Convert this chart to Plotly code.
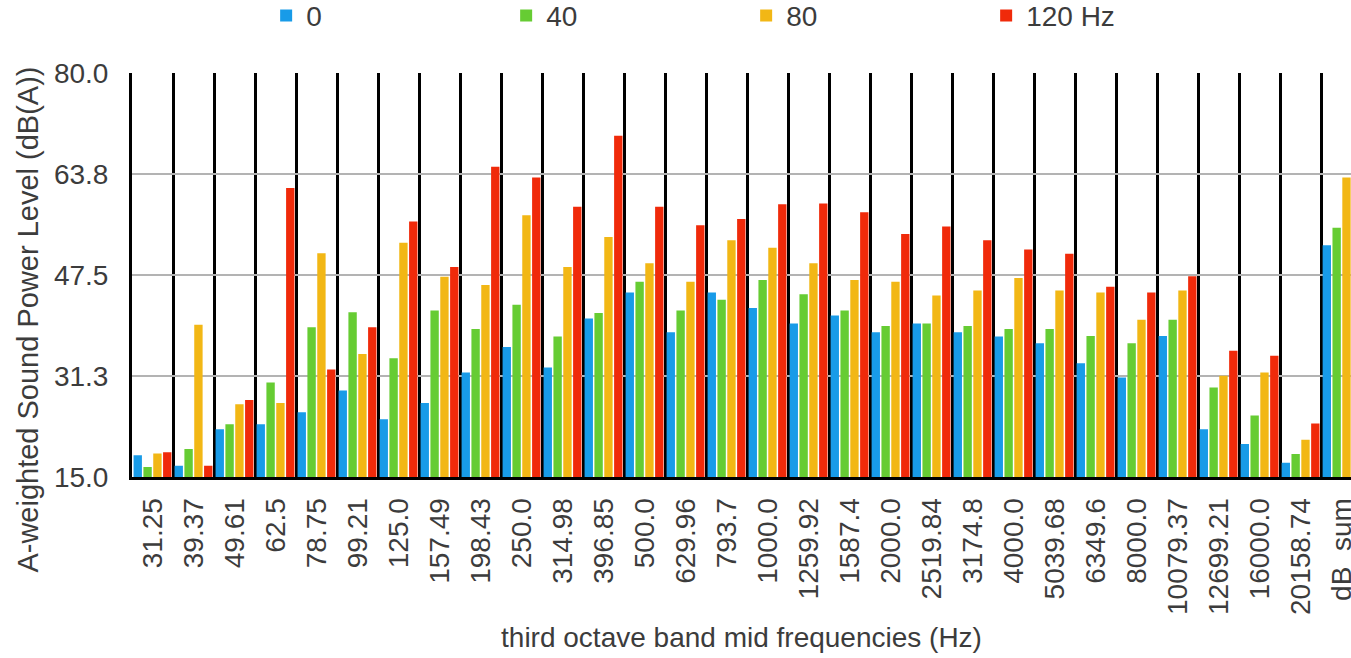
import plotly.graph_objects as go

# third-octave band mid frequencies, last group is the overall level
bands = ["31.25", "39.37", "49.61", "62.5", "78.75", "99.21", "125.0", "157.49",
         "198.43", "250.0", "314.98", "396.85", "500.0", "629.96", "793.7",
         "1000.0", "1259.92", "1587.4", "2000.0", "2519.84", "3174.8", "4000.0",
         "5039.68", "6349.6", "8000.0", "10079.37", "12699.21", "16000.0",
         "20158.74", "dB  sum"]

# A-weighted sound power level (dB(A)) per excitation frequency
lw_0 = [18.5, 16.8, 22.7, 23.5, 25.4, 28.9, 24.3, 26.9, 31.8, 35.9, 32.6, 40.5,
        44.7, 38.3, 44.7, 42.2, 39.7, 41.0, 38.3, 39.7, 38.3, 37.6, 36.5, 33.3,
        31.0, 37.7, 22.7, 20.3, 17.3, 52.3]
lw_40 = [16.6, 19.5, 23.5, 30.2, 39.1, 41.5, 34.1, 41.8, 38.8, 42.7, 37.6, 41.4,
         46.4, 41.8, 43.5, 46.7, 44.4, 41.8, 39.3, 39.7, 39.3, 38.8, 38.8, 37.7,
         36.5, 40.3, 29.4, 24.9, 18.7, 55.1]
lw_80 = [18.8, 39.5, 26.7, 26.9, 51.0, 34.8, 52.7, 47.2, 45.9, 57.1, 48.8, 53.6,
         49.4, 46.4, 53.1, 51.9, 49.4, 46.7, 46.4, 44.2, 45.0, 47.0, 45.0, 44.7,
         40.3, 45.0, 31.3, 31.8, 21.0, 63.2]
lw_120 = [19.0, 16.8, 27.4, 61.5, 32.3, 39.1, 56.1, 48.8, 64.9, 63.2, 58.5, 69.9,
          58.5, 55.5, 56.5, 58.9, 59.0, 57.6, 54.1, 55.3, 53.1, 51.6, 50.9, 45.6,
          44.7, 47.3, 35.3, 34.5, 23.6, 74.8]

series_names = ["0", "40", "80", "120 Hz"]
series_colors = ["#189BE8", "#66CC33", "#F2B715", "#F02A0A"]

y_tickvals = [15.0, 31.25, 47.5, 63.75, 80.0]
y_ticktext = ["15.0", "31.3", "47.5", "63.8", "80.0"]
y_title = "A-weighted Sound Power Level (dB(A))"
x_title = "third octave band mid frequencies (Hz)"

FONT = "Liberation Sans, Arial, sans-serif"
TXT = "#3c3c3c"

fig = go.Figure()
for name, vals, col in zip(series_names, [lw_0, lw_40, lw_80, lw_120], series_colors):
    fig.add_trace(go.Bar(
        x=bands, y=vals, name=name,
        marker=dict(color=col, line=dict(width=0)),
    ))

fig.update_layout(
    width=1351, height=658,
    margin=dict(l=132, r=0, t=73, b=181),
    paper_bgcolor="white", plot_bgcolor="white",
    barmode="group", bargap=0.04, bargroupgap=0.15,
    font=dict(family=FONT, size=28, color=TXT),
    showlegend=True,
    legend=dict(
        orientation="h", xref="container", yref="container",
        x=0.197, y=0.976, xanchor="left", yanchor="middle",
        entrywidth=195, entrywidthmode="pixels",
        font=dict(family=FONT, size=28, color=TXT),
        bgcolor="rgba(0,0,0,0)", borderwidth=0,
        itemclick=False,
    ),
)

fig.update_xaxes(
    type="category",
    range=[-0.5, 29.23],
    tickson="boundaries",
    showgrid=True, gridcolor="black", gridwidth=3,
    showline=True, linecolor="black", linewidth=3,
    ticks="", tickangle=-90,
    ticklabelstandoff=7,
    tickfont=dict(family=FONT, size=28, color=TXT),
    title=dict(text=x_title,
               font=dict(family=FONT, size=28, color=TXT), standoff=14),
    automargin=False,
)

fig.update_yaxes(
    range=[15, 80],
    tickvals=y_tickvals, ticktext=y_ticktext,
    showgrid=True, gridcolor="#b3b3b3", gridwidth=2,
    showline=True, linecolor="black", linewidth=3,
    zeroline=False, ticks="",
    ticklabelstandoff=15,
    tickfont=dict(family=FONT, size=28, color=TXT),
    automargin=False,
)

# vertical axis title, set a little below the plot's vertical centre
fig.add_annotation(
    text=y_title, textangle=-90,
    xref="paper", yref="paper", x=-0.0855, y=0.389,
    xanchor="center", yanchor="middle", showarrow=False,
    font=dict(family=FONT, size=29, color=TXT),
)

fig.write_html("out.html")
